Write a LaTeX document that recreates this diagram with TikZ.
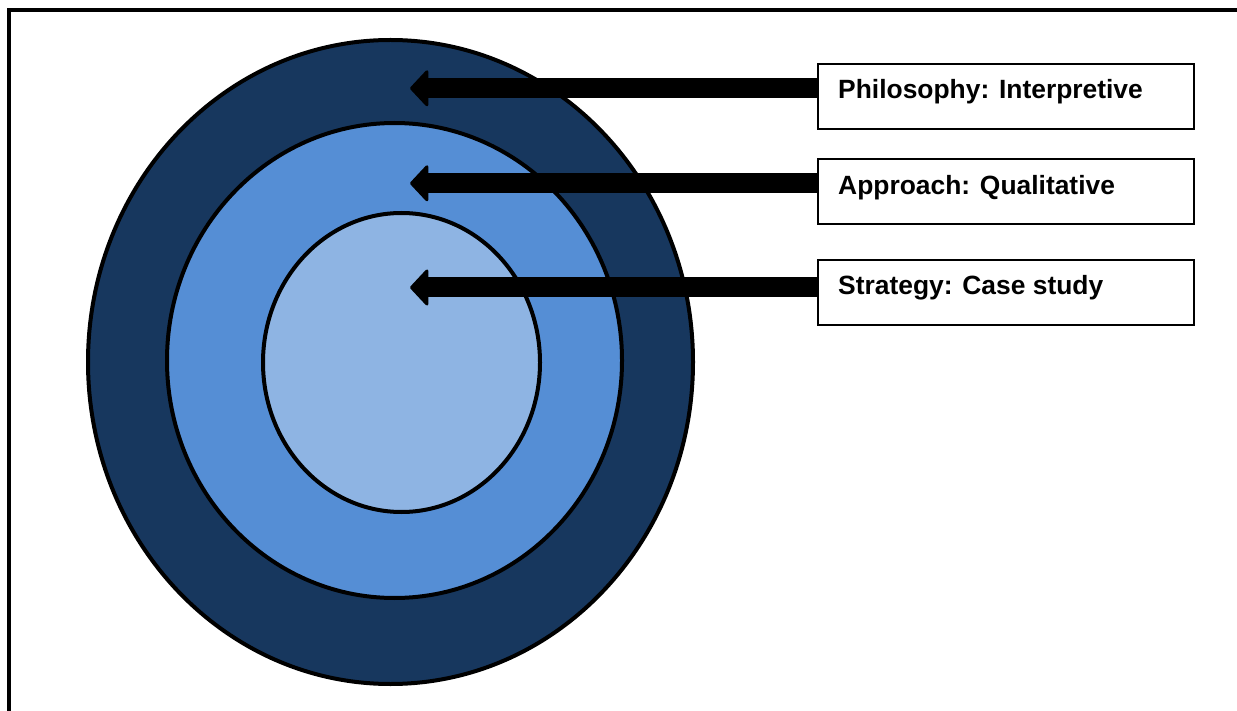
\documentclass[tikz,border=0pt]{standalone}
\usepackage{fontspec}
\setmainfont{Liberation Sans}
\usetikzlibrary{arrows.meta}

\definecolor{ringouter}{HTML}{17375E}
\definecolor{ringmiddle}{HTML}{558ED5}
\definecolor{ringinner}{HTML}{8EB4E3}

\tikzset{
  ring/.style={draw=black, line width=4pt},
  labelbox/.style={draw=black, fill=white, line width=2pt, minimum width=376pt,
    minimum height=65pt, inner sep=0pt},
  labeltext/.style={anchor=base west, inner sep=0pt,
    font=\fontsize{26.4}{31}\selectfont\bfseries},
  pointer/.style={line width=20pt, draw=black,
    -{Triangle[length=19pt, width=40pt, line width=3pt, round]}},
}

\begin{document}
\begin{tikzpicture}[x=1pt, y=-1pt]
  \useasboundingbox (0,0) rectangle (1237,711);

  % page frame (open at right and bottom)
  \draw[line width=4pt] (9,715) -- (9,10) -- (1240,10);

  % nested layers
  \fill[ringouter] (390.5,362) ellipse [x radius=302.5pt, y radius=322pt];
  \draw[ring] (390.5,362) ellipse [x radius=302.5pt, y radius=322pt];
  \fill[ringmiddle] (394.5,360.5) ellipse [x radius=227.5pt, y radius=237.5pt];
  \draw[ring] (394.5,360.5) ellipse [x radius=227.5pt, y radius=237.5pt];
  \fill[ringinner] (401.5,362.5) ellipse [x radius=138.5pt, y radius=149.5pt];
  \draw[ring] (401.5,362.5) ellipse [x radius=138.5pt, y radius=149.5pt];

  % arrow targets inside the layers
  \coordinate (t1) at (410,88.3);
  \coordinate (t2) at (410,183.3);
  \coordinate (t3) at (410,287.5);

  % label boxes
  \node[labelbox] (b1) at (1006,96.5) {};
  \node[labelbox] (b2) at (1006,192) {};
  \node[labelbox] (b3) at (1006,293) {};

  \node[labeltext] (l1) at ([shift={(21pt,-36pt)}]b1.north west) {Philosophy: Interpretive};
  \node[labeltext] (l2) at ([shift={(21pt,-36pt)}]b2.north west) {Approach: Qualitative};
  \node[labeltext] (l3) at ([shift={(21pt,-35pt)}]b3.north west) {Strategy: Case study};

  % pointers
  \draw[pointer] (b1.west |- t1) -- (t1);
  \draw[pointer] (b2.west |- t2) -- (t2);
  \draw[pointer] (b3.west |- t3) -- (t3);
\end{tikzpicture}
\end{document}
